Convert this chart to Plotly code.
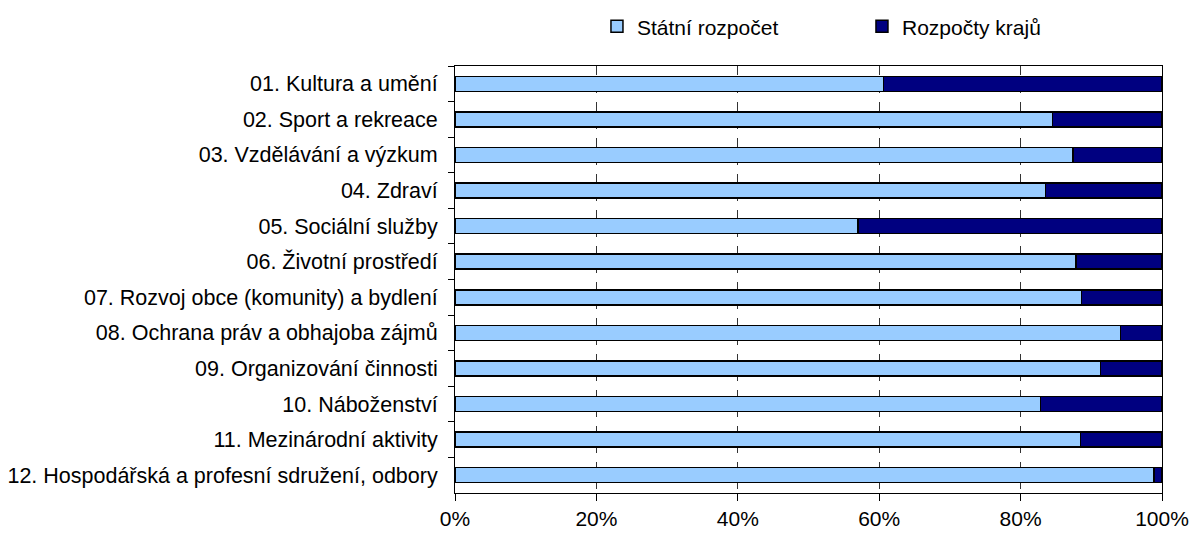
import plotly.graph_objects as go

categories = [
    "01. Kultura a umění",
    "02. Sport a rekreace",
    "03. Vzdělávání a výzkum",
    "04. Zdraví",
    "05. Sociální služby",
    "06. Životní prostředí",
    "07. Rozvoj obce (komunity) a bydlení",
    "08. Ochrana práv a obhajoba zájmů",
    "09. Organizování činnosti",
    "10. Náboženství",
    "11. Mezinárodní aktivity",
    "12. Hospodářská a profesní sdružení, odbory",
]
statni = [60.6, 84.5, 87.4, 83.5, 57.0, 87.8, 88.6, 94.1, 91.3, 82.8, 88.5, 98.9]
kraje = [round(100 - v, 1) for v in statni]
x_ticks = [0, 20, 40, 60, 80, 100]
x_labels = [f"{v}%" for v in x_ticks]

FONT = "Liberation Sans, Arial, sans-serif"

fig = go.Figure()
fig.add_trace(go.Bar(
    y=categories, x=statni, orientation="h", name="Státní rozpočet",
    marker=dict(color="#99CCFF", line=dict(color="#000000", width=1.5)),
))
fig.add_trace(go.Bar(
    y=categories, x=kraje, orientation="h", name="Rozpočty krajů",
    marker=dict(color="#000080", line=dict(color="#000000", width=1.5)),
))

fig.update_layout(
    width=1192, height=534,
    barmode="stack", bargap=0.58,
    paper_bgcolor="white", plot_bgcolor="white",
    margin=dict(l=455, r=30, t=66, b=41, autoexpand=False),
    font=dict(family=FONT, size=21, color="#000000"),
    legend=dict(
        orientation="h", traceorder="normal",
        x=0.2008, y=1.092, xanchor="left", yanchor="middle",
        font=dict(size=21), entrywidth=220, entrywidthmode="pixels",
        itemwidth=30, bgcolor="rgba(0,0,0,0)",
    ),
    xaxis=dict(
        range=[0, 100], tickvals=x_ticks, ticktext=x_labels,
        showgrid=True, gridcolor="#333333", griddash="dash", gridwidth=1,
        showline=True, linecolor="#000000", linewidth=1, mirror=True,
        ticks="outside", ticklen=7, tickcolor="#000000", zeroline=False,
        tickfont=dict(size=21),
    ),
    yaxis=dict(
        autorange="reversed", tickson="boundaries",
        showgrid=False, showline=True, linecolor="#000000", linewidth=1, mirror=True,
        ticks="outside", ticklen=6, tickcolor="#000000",
        tickfont=dict(size=21.5), ticklabelstandoff=12,
    ),
)

fig.write_html(
    "out.html",
    config={"displayModeBar": False},
    post_script="document.body.style.margin='0';document.body.style.overflow='hidden';",
)
